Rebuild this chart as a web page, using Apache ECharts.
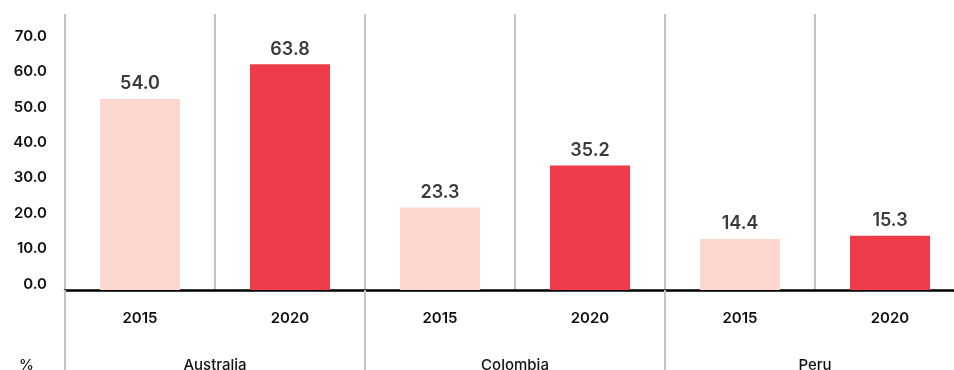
<!DOCTYPE html>
<html>
<head>
<meta charset="utf-8">
<script src="https://cdn.jsdelivr.net/npm/echarts@6/dist/echarts.min.js"></script>
<style>
  html, body { margin: 0; padding: 0; background: #ffffff; }
  #chart { width: 954px; height: 370px; }
</style>
</head>
<body>
<div id="chart"></div>
<script>
// Share values (%) by country, 2015 vs 2020
const countries = ['Australia', 'Colombia', 'Peru'];
const years = ['2015', '2020'];
const values2015 = [54.0, 23.3, 14.4];
const values2020 = [63.8, 35.2, 15.3];
const yTicks = [0, 10, 20, 30, 40, 50, 60, 70];

const FONT = 'Inter, "Noto Sans", sans-serif';
const COLOR_2015 = '#fbd7ce';
const COLOR_2020 = '#ef3c4a';
const GRID_LINE = '#c3c3c3';

// One slot per country/year pair
const slotLabels = [];
countries.forEach(() => years.forEach(y => slotLabels.push(y)));

const slotData = (vals, yearIdx) => {
  const out = [];
  vals.forEach(v => {
    years.forEach((_, i) => out.push(i === yearIdx ? v : '-'));
  });
  return out;
};

const chart = echarts.init(document.getElementById('chart'), null, { renderer: 'canvas' });

const valueLabel = {
  show: true,
  position: 'top',
  distance: 6,
  formatter: p => Number(p.value).toFixed(1),
  fontFamily: FONT,
  fontSize: 18,
  fontWeight: 600,
  color: '#3a3a3a'
};

chart.setOption({
  animation: false,
  // the last group runs a little past the right edge of the canvas
  grid: { left: 65, top: 14, width: 900, bottom: 80, containLabel: false, outerBoundsMode: 'none' },
  xAxis: [
    {
      type: 'category',
      data: slotLabels,
      position: 'bottom',
      axisLine: { show: true, lineStyle: { color: '#000', width: 2.5 } },
      axisTick: { show: false },
      splitLine: { show: true, lineStyle: { color: GRID_LINE, width: 2 } },
      axisLabel: {
        margin: 21,
        fontFamily: FONT, fontSize: 15, fontWeight: 600, color: '#111'
      }
    },
    {
      type: 'category',
      data: countries,
      position: 'bottom',
      axisLine: { show: false },
      axisTick: { show: true, length: 80, lineStyle: { color: GRID_LINE, width: 2 } },
      splitLine: { show: false },
      axisLabel: {
        margin: 68,
        fontFamily: FONT, fontSize: 15, fontWeight: 500, color: '#111'
      }
    }
  ],
  yAxis: {
    type: 'value',
    min: yTicks[0],
    max: 78,
    interval: 10,
    axisLine: { show: false },
    axisTick: { show: false },
    splitLine: { show: false },
    name: '%',
    nameLocation: 'start',
    nameGap: 68,
    nameTextStyle: {
      fontFamily: FONT, fontSize: 15, fontWeight: 500, color: '#111',
      align: 'right', padding: [0, 31, 0, 0]
    },
    axisLabel: {
      margin: 18,
      verticalAlign: 'bottom',
      lineHeight: 12,
      fontFamily: FONT, fontSize: 15, fontWeight: 600, color: '#111',
      formatter: v => (yTicks.indexOf(v) >= 0 ? v.toFixed(1) : '')
    }
  },
  series: [
    {
      name: years[0],
      type: 'bar',
      xAxisIndex: 0,
      data: slotData(values2015, 0),
      barWidth: 80,
      barGap: '-100%',
      itemStyle: { color: COLOR_2015 },
      label: valueLabel
    },
    {
      name: years[1],
      type: 'bar',
      xAxisIndex: 0,
      data: slotData(values2020, 1),
      barWidth: 80,
      barGap: '-100%',
      itemStyle: { color: COLOR_2020 },
      label: valueLabel
    }
  ]
});
</script>
</body>
</html>
